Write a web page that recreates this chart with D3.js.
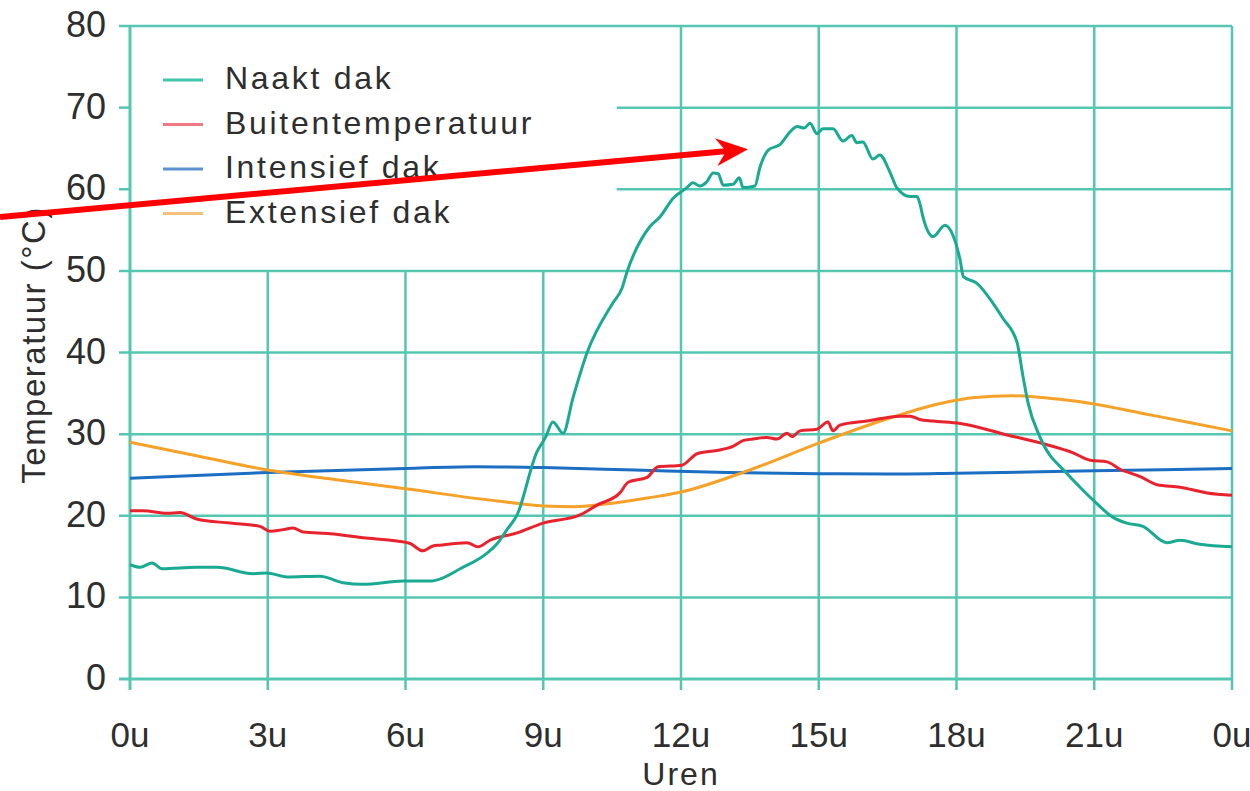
<!DOCTYPE html>
<html>
<head>
<meta charset="utf-8">
<script src="https://cdn.jsdelivr.net/npm/d3@7"></script>
<style>
  body { margin: 0; background: #fff; }
  text { font-family: "Liberation Sans", Arial, Helvetica, sans-serif; fill: #2e2e2e; }
</style>
</head>
<body>
<svg width="1250" height="791"></svg>
<script>
// hours on x axis, temperatures in °C
const xTicks = [0, 3, 6, 9, 12, 15, 18, 21, 24];
const yTicks = [0, 10, 20, 30, 40, 50, 60, 70, 80];

const naaktHours = [0, 0.22, 0.48, 0.7, 1.45, 1.9, 2.68, 2.98, 3.42, 4.14, 4.64, 5.07, 5.95, 6.53, 6.82, 7.19, 7.77, 8.0, 8.21, 8.43, 8.86, 9.05, 9.21, 9.43, 9.65, 9.95, 10.52, 10.71, 10.82, 11.32, 11.54, 11.83, 12.13, 12.26, 12.41, 12.56, 12.7, 12.81, 12.92, 13.13, 13.27, 13.35, 13.61, 13.72, 13.9, 14.16, 14.37, 14.53, 14.68, 14.81, 14.96, 15.09, 15.31, 15.53, 15.72, 15.83, 15.96, 16.18, 16.33, 16.55, 16.7, 16.99, 17.14, 17.2, 17.27, 17.49, 17.75, 17.92, 18.08, 18.15, 18.44, 18.8, 19.01, 19.32, 19.45, 19.56, 19.82, 20.4, 20.69, 20.98, 21.41, 21.71, 22.06, 22.58, 22.87, 23.3, 24];
const naaktTemp = [14.0, 13.7, 14.2, 13.5, 13.7, 13.7, 12.9, 13.0, 12.5, 12.6, 11.8, 11.6, 12.0, 12.0, 12.4, 13.5, 15.4, 16.6, 18.3, 20.1, 27.8, 29.6, 31.5, 30.1, 34.5, 39.9, 46.1, 47.8, 49.8, 55.4, 56.6, 58.9, 60.2, 60.8, 60.4, 60.9, 62.0, 61.9, 60.5, 60.6, 61.4, 60.2, 60.4, 62.7, 64.8, 65.5, 67.0, 67.7, 67.5, 68.1, 66.8, 67.4, 67.4, 65.9, 66.6, 65.7, 65.8, 63.7, 64.2, 62.1, 60.2, 59.1, 59.1, 58.3, 56.6, 54.2, 55.6, 54.4, 51.3, 49.3, 48.5, 46.0, 44.2, 41.2, 37.0, 33.8, 29.6, 25.2, 23.5, 21.9, 19.8, 19.1, 18.7, 16.7, 17.0, 16.5, 16.2];

const buitenHours = [0, 0.29, 0.8, 1.09, 1.45, 2.18, 2.83, 3.05, 3.33, 3.55, 3.77, 4.36, 5.08, 5.81, 6.1, 6.38, 6.6, 6.75, 7.34, 7.58, 7.84, 8.43, 9.0, 9.8, 10.17, 10.67, 10.85, 11.26, 11.5, 12.02, 12.35, 12.78, 13.13, 13.35, 13.57, 13.87, 14.09, 14.31, 14.42, 14.59, 14.96, 15.2, 15.31, 15.46, 16.05, 16.77, 16.99, 17.2, 17.49, 18.08, 19.1, 19.97, 20.54, 20.91, 21.28, 21.56, 22.0, 22.37, 22.87, 23.46, 24];
const buitenTemp = [20.6, 20.6, 20.3, 20.4, 19.6, 19.1, 18.7, 18.1, 18.3, 18.5, 18.0, 17.8, 17.3, 16.9, 16.6, 15.7, 16.3, 16.4, 16.7, 16.2, 17.0, 17.9, 19.1, 20.1, 21.3, 22.8, 24.1, 24.7, 26.0, 26.2, 27.6, 28.0, 28.5, 29.2, 29.4, 29.6, 29.4, 30.1, 29.7, 30.4, 30.6, 31.5, 30.4, 31.1, 31.6, 32.2, 32.2, 31.8, 31.6, 31.3, 29.9, 28.7, 27.7, 26.8, 26.6, 25.7, 24.8, 23.8, 23.5, 22.8, 22.5];

const intensiefHours = [0, 3, 6, 7.5, 9, 11, 13, 15, 16.5, 18, 21, 24];
const intensiefTemp = [24.6, 25.3, 25.8, 26.0, 25.9, 25.6, 25.3, 25.15, 25.1, 25.2, 25.5, 25.8];

const extensiefHours = [0, 1.5, 3, 4.5, 6, 8, 9, 9.7, 10.3, 11.3, 12, 13.4, 15, 16.4, 17.6, 18.4, 19.2, 20.2, 21, 22, 23.1, 24];
const extensiefTemp = [29.0, 27.3, 25.6, 24.4, 23.3, 21.8, 21.2, 21.1, 21.4, 22.2, 22.9, 25.4, 28.9, 31.7, 33.7, 34.5, 34.7, 34.3, 33.7, 32.6, 31.4, 30.4];

const seriesNames = ["Naakt dak", "Buitentemperatuur", "Intensief dak", "Extensief dak"];
const seriesColors = ["#1aa992", "#e8232d", "#1b6ec2", "#f6a128"];
const legendColors = ["#40c4aa", "#f07a84", "#5a93d0", "#f2c27a"];

// arrow annotation (data coords: start, tip)
const arrowFrom = [-2.83, 56.6];
const arrowTo = [13.46, 64.9];

const svg = d3.select("svg");
const gridColor = "#55c6b1";

const x = d3.scaleLinear().domain([0, 24]).range([130, 1232]);
const y = d3.scaleLinear().domain([0, 80]).range([679, 26]);

// legend area has no grid
const cutHour = 10.6, cutTemp = 50;

const grid = svg.append("g");
grid.selectAll(".hgrid").data(yTicks).join("line")
  .attr("x1", d => (d > cutTemp && d < 80) ? x(cutHour) : x(0) - 11)
  .attr("x2", x(24))
  .attr("y1", d => y(d)).attr("y2", d => y(d))
  .attr("stroke", gridColor).attr("stroke-width", d => d === 0 ? 3 : 2.5);
// left ticks for the cut lines
grid.selectAll(".ltick").data(yTicks.filter(d => d > cutTemp && d < 80)).join("line")
  .attr("x1", x(0) - 11).attr("x2", x(0))
  .attr("y1", d => y(d)).attr("y2", d => y(d))
  .attr("stroke", gridColor).attr("stroke-width", 2.5);
grid.selectAll(".vgrid").data(xTicks).join("line")
  .attr("x1", d => x(d)).attr("x2", d => x(d))
  .attr("y1", d => (d > 0 && d < 12) ? y(cutTemp) : y(80))
  .attr("y2", y(0) + 11)
  .attr("stroke", gridColor).attr("stroke-width", d => d === 0 ? 3 : 2.5);

// tick labels
svg.append("g").selectAll("text").data(yTicks).join("text")
  .attr("x", 106).attr("y", d => y(d) + 11)
  .attr("text-anchor", "end").attr("font-size", 36)
  .text(d => d);
svg.append("g").selectAll("text").data(xTicks).join("text")
  .attr("x", d => x(d)).attr("y", 747)
  .attr("text-anchor", "middle").attr("font-size", 35)
  .text(d => (d % 24) + "u");

svg.append("text")
  .attr("transform", "translate(45,345) rotate(-90)")
  .attr("text-anchor", "middle").attr("font-size", 33).attr("letter-spacing", 1.5)
  .text("Temperatuur (°C)");
svg.append("text")
  .attr("x", x(12)).attr("y", 785)
  .attr("text-anchor", "middle").attr("font-size", 32).attr("letter-spacing", 2)
  .text("Uren");

// series
const series = [
  [naaktHours, naaktTemp],
  [buitenHours, buitenTemp],
  [intensiefHours, intensiefTemp],
  [extensiefHours, extensiefTemp]
];
const line = d3.line().x(d => x(d[0])).y(d => y(d[1])).curve(d3.curveMonotoneX);
[2, 3, 1, 0].forEach(i => {
  const pts = series[i][0].map((h, k) => [h, series[i][1][k]]);
  svg.append("path")
    .attr("d", line(pts))
    .attr("fill", "none")
    .attr("stroke", seriesColors[i])
    .attr("stroke-width", 3)
    .attr("stroke-linejoin", "round");
});

// legend
const leg = svg.append("g");
seriesNames.forEach((name, i) => {
  const by = 89 + i * 44.5;
  leg.append("line")
    .attr("x1", 163).attr("x2", 203)
    .attr("y1", by - 9).attr("y2", by - 9)
    .attr("stroke", legendColors[i]).attr("stroke-width", 3);
  leg.append("text")
    .attr("x", 225).attr("y", by)
    .attr("font-size", 32).attr("letter-spacing", 2.7)
    .text(name);
});

// red arrow
const ax0 = x(arrowFrom[0]), ay0 = y(arrowFrom[1]);
const ax1 = x(arrowTo[0]), ay1 = y(arrowTo[1]);
const len = Math.hypot(ax1 - ax0, ay1 - ay0);
const ux = (ax1 - ax0) / len, uy = (ay1 - ay0) / len;
const nx = -uy, ny = ux;
const back = [ax1 - 32 * ux, ay1 - 32 * uy];
const notch = [ax1 - 22 * ux, ay1 - 22 * uy];
svg.append("line")
  .attr("x1", ax0).attr("y1", ay0)
  .attr("x2", notch[0] + 2 * ux).attr("y2", notch[1] + 2 * uy)
  .attr("stroke", "#ff0000").attr("stroke-width", 6);
svg.append("path")
  .attr("d", d3.line()([
    [ax1, ay1],
    [back[0] - 14 * nx, back[1] - 14 * ny],
    notch,
    [back[0] + 14 * nx, back[1] + 14 * ny]
  ]) + "Z")
  .attr("fill", "#ff0000");
</script>
</body>
</html>
